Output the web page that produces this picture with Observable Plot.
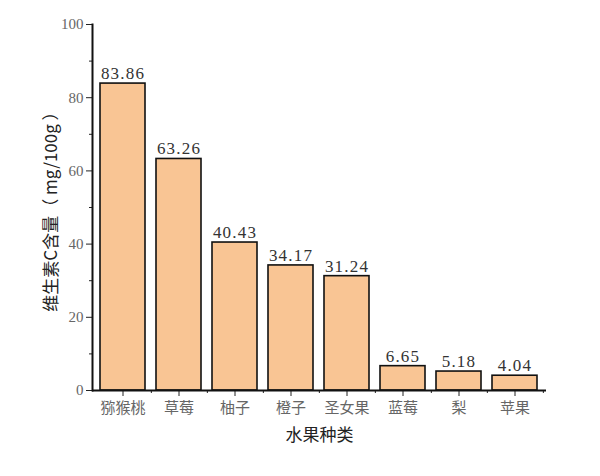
<!DOCTYPE html>
<html>
<head>
<meta charset="utf-8">
<script src="https://cdn.jsdelivr.net/npm/d3@7"></script>
<script src="https://cdn.jsdelivr.net/npm/@observablehq/plot@0.6"></script>
<style>
  body { margin: 0; background: #fff; }
</style>
</head>
<body>
<div id="chart"></div>
<script>
const fruits = ["猕猴桃", "草莓", "柚子", "橙子", "圣女果", "蓝莓", "梨", "苹果"];
const vitaminC = [83.86, 63.26, 40.43, 34.17, 31.24, 6.65, 5.18, 4.04];
const valueLabels = ["83.86", "63.26", "40.43", "34.17", "31.24", "6.65", "5.18", "4.04"];
const majorTicks = [0, 20, 40, 60, 80, 100];
const minorTicks = [10, 30, 50, 70, 90];
const xLabel = "水果种类";
const yLabel = "维生素C含量（ mg/100g ）";

const data = fruits.map((f, i) => ({fruit: f, value: vitaminC[i], label: valueLabels[i]}));

const serif = "'Liberation Serif', 'DejaVu Serif', serif";
const cjk = "'Noto Sans CJK SC', sans-serif";

const chart = Plot.plot({
  width: 600,
  height: 476,
  marginLeft: 92,
  marginRight: 54,
  marginTop: 24,
  marginBottom: 86,
  style: {fontFamily: serif, background: "#fff"},
  x: {domain: fruits, paddingInner: 0.19, paddingOuter: 0.1},
  y: {domain: [0, 100]},
  marks: [
    Plot.barY(data, {x: "fruit", y: "value", fill: "#F9C594", stroke: "#111", strokeWidth: 1.6}),
    Plot.text(data, {x: "fruit", y: "value", text: "label", dy: -10, fontSize: 17, fill: "#333", fontFamily: serif}),
    Plot.axisY({ticks: majorTicks, tickSize: 6, tickWidth: 1.6, stroke: "#222", fontSize: 15, fill: "#666",
      tickPadding: 3, label: null}),
    Plot.axisY({ticks: minorTicks, tickSize: 3, tickWidth: 1.3, stroke: "#222", text: null, label: null}),
    Plot.axisX({tickSize: 6, tickWidth: 1.6, stroke: "#222", fontSize: 15, fill: "#666", tickPadding: 6,
      fontFamily: cjk, label: null}),
    Plot.axisX({tickSize: 3, tickWidth: 1.3, stroke: "#222", dx: 28.35, text: null, label: null}),
    Plot.axisY({ticks: [], label: yLabel, labelAnchor: "center", labelArrow: "none", labelOffset: 48,
      fontFamily: cjk, fontSize: 16, fill: "#222"}),
    Plot.axisX({ticks: [], label: xLabel, labelAnchor: "center", labelArrow: "none", labelOffset: 50,
      fontFamily: cjk, fontSize: 17, fill: "#222"}),
    Plot.ruleY([0], {stroke: "#111", strokeWidth: 2}),
    Plot.frame({anchor: "left", stroke: "#111", strokeWidth: 2})
  ]
});
document.getElementById("chart").append(chart);
d3.select(chart).selectAll("[aria-label='y-axis label'] text, [aria-label='x-axis label'] text")
  .attr("font-family", "Noto Sans CJK SC").attr("font-size", 17).attr("fill", "#222");
d3.select(chart).selectAll("[aria-label='text'] text").attr("letter-spacing", "1.2px");
</script>
</body>
</html>
